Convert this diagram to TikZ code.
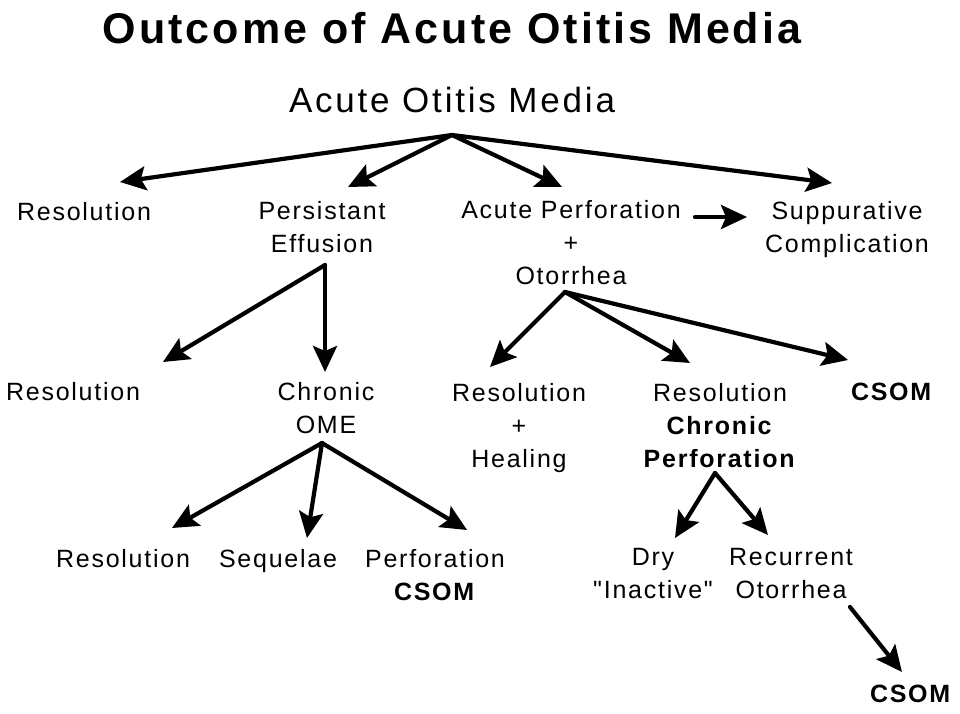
\documentclass[tikz,border=0pt]{standalone}
\usepackage{fontspec}
\setmainfont{Liberation Sans}
\newfontfamily\bodyfont[LetterSpace=7]{Liberation Sans}
\newfontfamily\headfont[LetterSpace=8]{Liberation Sans}
\newfontfamily\ttlfont[LetterSpace=7]{Liberation Sans}
\usetikzlibrary{arrows.meta}
\begin{document}
\begin{tikzpicture}[x=1pt,y=-1pt,
  lbl/.style={inner sep=0pt, anchor=base, align=center, font=\bodyfont\fontsize{25}{33}\selectfont},
  ttl/.style={inner sep=0pt, anchor=base, font=\ttlfont\bfseries\fontsize{43}{50}\selectfont},
  hd/.style={inner sep=0pt, anchor=base, font=\headfont\fontsize{35}{40}\selectfont},
  arr/.style={line width=4.2pt, line cap=round, line join=round, -{Stealth[length=26pt,width=24pt,inset=5pt]}}]
\path[use as bounding box, fill=white] (0,0) rectangle (960,713);
% texts (anchor = baseline of last line)
\node[ttl] (title) at (452,43) {Outcome of Acute Otitis Media};
\node[hd] (aom) at (452,112) {Acute Otitis Media};
\node[lbl] (res1) at (84,220) {Resolution};
\node[lbl] (pe) at (322,252) {Persistant\\Effusion};
\node[lbl] (ap) at (571,284) {Acute Perforation\\+\\Otorrhea};
\node[lbl] (sc) at (847,252) {Suppurative\\Complication};
\node[lbl] (res2) at (73,400) {Resolution};
\node[lbl] (ome) at (326,433) {Chronic\\OME};
\node[lbl] (rh) at (519,467) {Resolution\\+\\Healing};
\node[lbl] (rcp) at (720,467) {Resolution\\\textbf{Chronic}\\\textbf{Perforation}};
\node[lbl] (csom1) at (892,400) {\textbf{CSOM}};
\node[lbl] (res3) at (123,567) {Resolution};
\node[lbl] (seq) at (278,567) {Sequelae};
\node[lbl] (pcs) at (435,600) {Perforation\\\textbf{CSOM}};
\node[lbl] (dry) at (653,598) {Dry\\"Inactive"};
\node[lbl] (ro) at (791,598) {Recurrent\\Otorrhea};
\node[lbl] (csom2) at (911,702) {\textbf{CSOM}};
% connector points
\coordinate (aomA) at (452,135);
\coordinate (tRes1) at (120,182);
\coordinate (tPe) at (348,187);
\coordinate (tAp) at (562,187);
\coordinate (tSc) at (832,183);
\coordinate (apR) at (695,217);
\coordinate (scL) at (747,217);
\coordinate (peA) at (325,265);
\coordinate (tRes2) at (163,362);
\coordinate (tOme) at (325,372);
\coordinate (otA) at (565,292);
\coordinate (tRh) at (490,367);
\coordinate (tRcp) at (690,363);
\coordinate (tCsom1) at (848,360);
\coordinate (omeA) at (322,443);
\coordinate (tRes3) at (172,528);
\coordinate (tSeq) at (307,538);
\coordinate (tPcs) at (467,530);
\coordinate (cpA) at (715,473);
\coordinate (tDry) at (675,538);
\coordinate (tRo) at (768,535);
\coordinate (roA) at (850,607);
\coordinate (tCsom2) at (902,672);
% connectors
\draw[arr] (aomA) -- (tRes1);
\draw[arr] (aomA) -- (tPe);
\draw[arr] (aomA) -- (tAp);
\draw[arr] (aomA) -- (tSc);
\draw[arr] (apR) -- (scL);
\draw[arr] (peA) -- (tRes2);
\draw[arr] (peA) -- (tOme);
\draw[arr] (otA) -- (tRh);
\draw[arr] (otA) -- (tRcp);
\draw[arr] (otA) -- (tCsom1);
\draw[arr] (omeA) -- (tRes3);
\draw[arr] (omeA) -- (tSeq);
\draw[arr] (omeA) -- (tPcs);
\draw[arr] (cpA) -- (tDry);
\draw[arr] (cpA) -- (tRo);
\draw[arr] (roA) -- (tCsom2);
\end{tikzpicture}
\end{document}
